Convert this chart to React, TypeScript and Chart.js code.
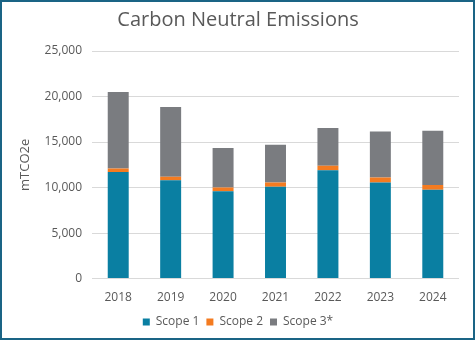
import React, { useEffect, useRef } from "react";
import { Chart, registerables } from "chart.js";

Chart.register(...registerables);

const categories = ["2018", "2019", "2020", "2021", "2022", "2023", "2024"];
const scope1 = [11700, 10800, 9600, 10100, 11900, 10550, 9750];
const scope2 = [400, 400, 400, 450, 500, 550, 530];
const scope3 = [8400, 7650, 4350, 4150, 4150, 5050, 5950];
const yTicks = [0, 5000, 10000, 15000, 20000, 25000];

const FONT = "'Open Sans', 'Noto Sans', sans-serif";

export default function App() {
  const ref = useRef<HTMLCanvasElement>(null);
  useEffect(() => {
    document.body.style.margin = "0";
    const chart = new Chart(ref.current!, {
      type: "bar",
      data: {
        labels: categories,
        datasets: [
          { label: "Scope 1", data: scope1, backgroundColor: "#0A7FA2" },
          { label: "Scope 2", data: scope2, backgroundColor: "#F47B20" },
          { label: "Scope 3*", data: scope3, backgroundColor: "#7A7C80" },
        ],
      },
      options: {
        animation: false,
        responsive: false,
        maintainAspectRatio: false,
        layout: { padding: { left: 15, right: 14, top: 4, bottom: 0 } },
        datasets: { bar: { barPercentage: 0.4, categoryPercentage: 1 } },
        plugins: {
          title: {
            display: true,
            text: "Carbon Neutral Emissions",
            color: "#595959",
            font: { family: FONT, size: 20, weight: "normal" },
            padding: { top: 2, bottom: 19 },
          },
          legend: {
            position: "bottom",
            labels: {
              boxWidth: 7,
              boxHeight: 7,
              color: "#595959",
              font: { family: FONT, size: 12 },
              padding: 7,
            },
          },
          tooltip: { enabled: false },
        },
        scales: {
          x: {
            stacked: true,
            grid: { display: false },
            border: { display: false },
            ticks: { color: "#595959", font: { family: FONT, size: 12 }, padding: 4 },
          },
          y: {
            stacked: true,
            min: 0,
            max: 25000,
            afterBuildTicks: (axis: any) => {
              axis.ticks = yTicks.map((v) => ({ value: v }));
            },
            grid: { color: "#D9D9D9", lineWidth: 1, drawTicks: false },
            border: { display: false },
            title: {
              display: true,
              text: "mTCO2e",
              color: "#595959",
              font: { family: FONT, size: 13 },
              padding: { top: 0, bottom: 2 },
            },
            ticks: {
              color: "#595959",
              font: { family: FONT, size: 12 },
              padding: 10,
              callback: (v: any) => Number(v).toLocaleString("en-US"),
            },
          },
        },
      },
    });
    return () => chart.destroy();
  }, []);
  return (
    <div
      style={{
        position: "absolute",
        left: 0,
        top: 0,
        width: 475,
        height: 340,
        boxSizing: "border-box",
        border: "2px solid #1A6485",
        background: "#fff",
      }}
    >
      <canvas ref={ref} width={471} height={336} style={{ display: "block" }} />
    </div>
  );
}
